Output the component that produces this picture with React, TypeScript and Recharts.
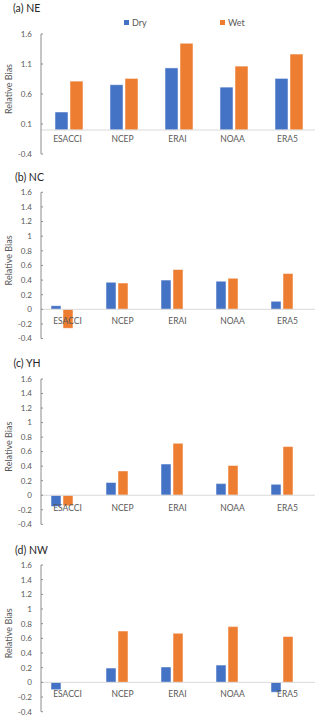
import React from 'react';
import { BarChart, Bar, XAxis, YAxis, ReferenceLine, Legend } from 'recharts';

const categories = ['ESACCI', 'NCEP', 'ERAI', 'NOAA', 'ERA5'];

const neDry = [0.3, 0.755, 1.035, 0.715, 0.86];
const neWet = [0.815, 0.86, 1.445, 1.065, 1.265];
const ncDry = [0.05, 0.37, 0.4, 0.385, 0.11];
const ncWet = [-0.26, 0.36, 0.545, 0.425, 0.49];
const yhDry = [-0.155, 0.175, 0.43, 0.16, 0.15];
const yhWet = [-0.145, 0.335, 0.715, 0.41, 0.67];
const nwDry = [-0.1, 0.195, 0.21, 0.235, -0.135];
const nwWet = [0, 0.7, 0.67, 0.76, 0.625];

const ticksA = [-0.4, 0.1, 0.6, 1.1, 1.6];
const ticksB = [-0.4, -0.2, 0, 0.2, 0.4, 0.6, 0.8, 1, 1.2, 1.4, 1.6];

const DRY = '#4472C4';
const WET = '#ED7D31';
const TEXT = '#595959';
const FONT = 'Lato, "Liberation Sans", sans-serif';

const build = (dry: number[], wet: number[]) =>
  categories.map((c, i) => ({ name: c, dry: dry[i], wet: wet[i] }));

interface PanelProps {
  title: string;
  dry: number[];
  wet: number[];
  ticks: number[];
  top: number;
  height: number;
  plotTop: number;
  plotBottom: number;
  barSize: number;
  barGap: number;
  shift: number;
  labelDx: number;
  labelDy: number;
  titleX: number;
  titleY: number;
  legend?: boolean;
}

const LegendBox = (props: any) => {
  const pos = [124, 220];
  return (
    <div style={{ position: 'relative', height: 12 }}>
      {(props.payload || []).map((p: any, i: number) => (
        <div
          key={p.value}
          style={{ position: 'absolute', left: pos[i], top: 0, display: 'flex', alignItems: 'center', fontSize: 9, color: TEXT, fontFamily: FONT }}
        >
          <span style={{ width: 5, height: 5, background: p.color, marginRight: 3, display: 'inline-block' }} />
          {p.value}
        </div>
      ))}
    </div>
  );
};

const Panel = (p: PanelProps) => {
  const plotH = p.plotBottom - p.plotTop;
  const zeroY = p.plotTop - p.top + (plotH * 1.6) / 2.0;
  const data = build(p.dry, p.wet);

  const CatTick = (t: any) => (
    <text
      x={t.x + p.labelDx}
      y={zeroY + p.labelDy}
      textAnchor="middle"
      fontSize={8.5}
      fill={TEXT}
      fontFamily={FONT}
    >
      {t.payload.value}
    </text>
  );

  const AxisTitle = (l: any) => {
    const vb = l.viewBox || { y: 0, height: 0 };
    const cy = vb.y + vb.height / 2 - 5;
    return (
      <text
        x={8.5}
        y={cy}
        transform={`rotate(-90, 8.5, ${cy})`}
        textAnchor="middle"
        dominantBaseline="central"
        fontSize={9}
        fill={TEXT}
        fontFamily={FONT}
      >
        Relative Bias
      </text>
    );
  };

  return (
    <div style={{ position: 'absolute', left: 0, top: p.top, width: 320, height: p.height }}>
      <div
        style={{ position: 'absolute', left: p.titleX, top: p.titleY - p.top - 7, fontSize: 10.5, color: '#262626', fontFamily: FONT, whiteSpace: 'nowrap' }}
      >
        {p.title}
      </div>
      <BarChart
        width={320}
        height={p.height}
        data={data}
        barSize={p.barSize}
        barGap={p.barGap}
        margin={{ top: p.plotTop - p.top, right: 5, left: 0, bottom: p.top + p.height - p.plotBottom - 1 }}
      >
        <XAxis
          dataKey="name"
          height={1}
          axisLine={false}
          tickLine={false}
          interval={0}
          padding={{ left: -p.shift, right: p.shift - 1 }}
          tick={<CatTick />}
        />
        <YAxis
          width={41}
          domain={[-0.4, 1.6]}
          ticks={p.ticks}
          interval={0}
          allowDataOverflow
          axisLine={{ stroke: '#8c8c8c' }}
          tickLine={{ stroke: '#8c8c8c', transform: 'translate(2,0)' }}
          tickSize={2}
          tickMargin={7}
          tick={{ fontSize: 8, fill: TEXT, fontFamily: FONT }}
          label={<AxisTitle />}
        />
        <ReferenceLine y={0} stroke="#d9d9d9" strokeWidth={1} />
        {p.legend && (
          <Legend
            content={<LegendBox />}
            verticalAlign="top"
            wrapperStyle={{ position: 'absolute', top: 17, left: 0, width: 320 }}
          />
        )}
        <Bar dataKey="dry" name="Dry" fill={DRY} stroke="#ffffff" strokeOpacity={0.5} isAnimationActive={false} />
        <Bar dataKey="wet" name="Wet" fill={WET} stroke="#ffffff" strokeOpacity={0.5} isAnimationActive={false} />
      </BarChart>
    </div>
  );
};

export default function App() {
  return (
    <div style={{ position: 'absolute', left: 0, top: 0, width: 320, height: 718, background: '#fff' }}>
      <Panel title="(a) NE" dry={neDry} wet={neWet} ticks={ticksA} top={0} height={165} plotTop={22} plotBottom={154}
        barSize={13} barGap={2} shift={0} labelDx={-1} labelDy={14.5} titleX={13} titleY={9} legend />
      <Panel title="(b) NC" dry={ncDry} wet={ncWet} ticks={ticksB} top={170} height={175} plotTop={192.3} plotBottom={338.6}
        barSize={10} barGap={2} shift={7} labelDx={6} labelDy={15} titleX={15} titleY={177.5} />
      <Panel title="(c) YH" dry={yhDry} wet={yhWet} ticks={ticksB} top={355} height={175} plotTop={379} plotBottom={524.3}
        barSize={10} barGap={2} shift={7} labelDx={6} labelDy={16} titleX={13.5} titleY={364} />
      <Panel title="(d) NW" dry={nwDry} wet={nwWet} ticks={ticksB} top={540} height={178} plotTop={565} plotBottom={711.7}
        barSize={10} barGap={2} shift={7} labelDx={6} labelDy={15} titleX={15} titleY={550.5} />
    </div>
  );
}
